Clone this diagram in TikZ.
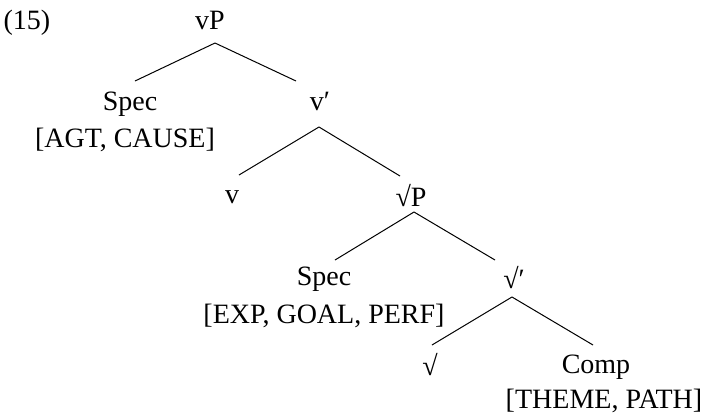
\documentclass[tikz,border=0pt]{standalone}
\usepackage{fontspec}
\setmainfont{Liberation Serif}
\begin{document}
\begin{tikzpicture}[x=0.5pt,y=-0.5pt,
  lbl/.style={anchor=base,inner sep=0pt,font=\fontsize{14}{17}\selectfont},
  edge/.style={line width=0.5pt}]
\useasboundingbox (0,0) rectangle (712,414);
\node[lbl] (n15) at (27,29) {(15)};
\node[lbl] (vP) at (210,29) {vP};
\node[lbl] (spec1) at (130,110) {Spec};
\node[lbl] (f1) at (125,147) {[AGT, CAUSE]};
\node[lbl] (vbar) at (320,110) {v′};
\node[lbl] (v) at (232,203) {v};
\node[lbl] (rP) at (411,206) {√P};
\node[lbl] (spec2) at (324,285) {Spec};
\node[lbl] (f2) at (324,323) {[EXP, GOAL, PERF]};
\node[lbl] (rbar) at (514,288) {√′};
\node[lbl] (r) at (430,375) {√};
\node[lbl] (comp) at (596,373) {Comp};
\node[lbl] (f3) at (604,408) {[THEME, PATH]};
\draw[edge] ([shift={(2.5pt,-7pt)}]vP.base) -- ([shift={(2.5pt,14.5pt)}]spec1.base);
\draw[edge] ([shift={(2.5pt,-7pt)}]vP.base) -- ([shift={(-12pt,14.5pt)}]vbar.base);
\draw[edge] ([shift={(-0.5pt,-8.5pt)}]vbar.base) -- ([shift={(3.5pt,14pt)}]v.base);
\draw[edge] ([shift={(-0.5pt,-8.5pt)}]vbar.base) -- ([shift={(-5.5pt,15pt)}]rP.base);
\draw[edge] ([shift={(1.5pt,-3pt)}]rP.base) -- ([shift={(5.5pt,12.5pt)}]spec2.base);
\draw[edge] ([shift={(1.5pt,-3pt)}]rP.base) -- ([shift={(-9.5pt,14pt)}]rbar.base);
\draw[edge] ([shift={(-1pt,-4.5pt)}]rbar.base) -- ([shift={(1pt,15pt)}]r.base);
\draw[edge] ([shift={(-1pt,-4.5pt)}]rbar.base) -- ([shift={(-1.5pt,14pt)}]comp.base);
\end{tikzpicture}
\end{document}
